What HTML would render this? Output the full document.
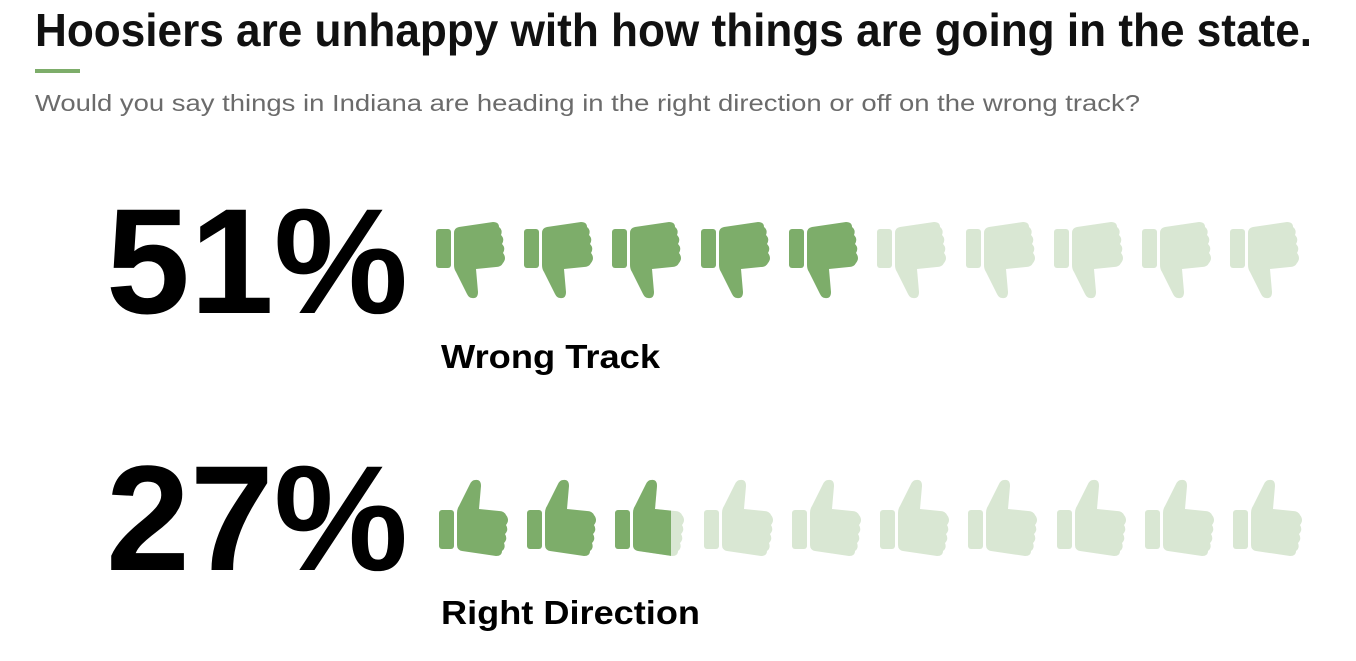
<!DOCTYPE html>
<html><head><style>html,body{margin:0;padding:0;background:#fff;}</style></head>
<body>
<svg width="1356" height="656" viewBox="0 0 1356 656" xmlns="http://www.w3.org/2000/svg" font-family="Liberation Sans, sans-serif">
<defs>
<g id="down">
<rect x="0" y="7" width="15" height="39" rx="3"/>
<path d="M18,11 Q18,6 23,5 L57,0 Q63,0 63,5 Q67,8 65,13 Q69,17 66,22 Q70,26 67,31 Q71,36 67,41 Q65,45 60,45 L40,47 L42,70 Q42,77 36,76 Q33,76 31,72 L20,50 Q18,47 18,43 Z"/>
</g>
<g id="up"><use href="#down" transform="translate(0,77) scale(1,-1)"/></g>
<clipPath id="pc"><rect x="0" y="0" width="671" height="656"/></clipPath>
</defs>
<text x="35" y="46" font-size="46" font-weight="bold" fill="#111" textLength="1277" lengthAdjust="spacingAndGlyphs">Hoosiers are unhappy with how things are going in the state.</text>
<rect x="35" y="69" width="45" height="4" fill="#7dad6a"/>
<text x="35" y="111" font-size="23" fill="#6b6b6b" textLength="1105" lengthAdjust="spacingAndGlyphs">Would you say things in Indiana are heading in the right direction or off on the wrong track?</text>

<text x="106" y="313" font-size="150" font-weight="bold" fill="#000" textLength="302" lengthAdjust="spacingAndGlyphs">51%</text>
<text x="441" y="368" font-size="33" font-weight="bold" fill="#000" textLength="219" lengthAdjust="spacingAndGlyphs">Wrong Track</text>
<text x="106" y="570" font-size="150" font-weight="bold" fill="#000" textLength="302" lengthAdjust="spacingAndGlyphs">27%</text>
<text x="441" y="624" font-size="33" font-weight="bold" fill="#000" textLength="259" lengthAdjust="spacingAndGlyphs">Right Direction</text>

<g fill="#7dad6a">
<use href="#down" transform="translate(436,222)"/>
<use href="#down" transform="translate(524,222)"/>
<use href="#down" transform="translate(612,222)"/>
<use href="#down" transform="translate(701,222)"/>
<use href="#down" transform="translate(789,222)"/>
</g>
<g fill="#d9e7d3">
<use href="#down" transform="translate(877,222)"/>
<use href="#down" transform="translate(966,222)"/>
<use href="#down" transform="translate(1054,222)"/>
<use href="#down" transform="translate(1142,222)"/>
<use href="#down" transform="translate(1230,222)"/>
</g>

<g fill="#d9e7d3">
<use href="#up" transform="translate(615,479)"/>
<use href="#up" transform="translate(704,479)"/>
<use href="#up" transform="translate(792,479)"/>
<use href="#up" transform="translate(880,479)"/>
<use href="#up" transform="translate(968,479)"/>
<use href="#up" transform="translate(1057,479)"/>
<use href="#up" transform="translate(1145,479)"/>
<use href="#up" transform="translate(1233,479)"/>
</g>
<g fill="#7dad6a">
<use href="#up" transform="translate(439,479)"/>
<use href="#up" transform="translate(527,479)"/>
<g clip-path="url(#pc)"><use href="#up" transform="translate(615,479)"/></g>
</g>
</svg>
</body></html>
